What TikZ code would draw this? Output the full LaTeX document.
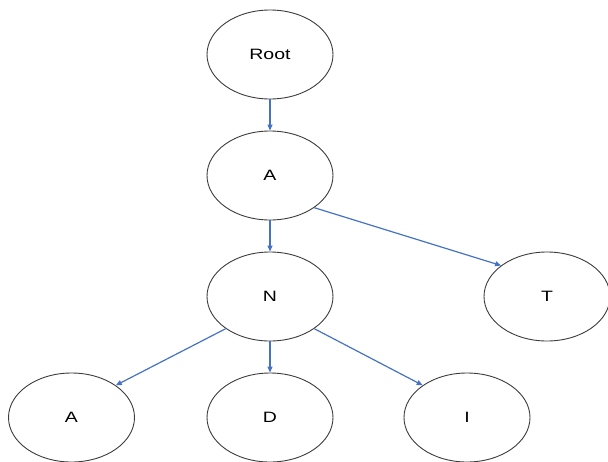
\documentclass[tikz,border=0pt]{standalone}
\usepackage{fontspec}
\setmainfont{Liberation Sans}
\usetikzlibrary{arrows.meta,shapes.geometric}
\definecolor{edgeblue}{RGB}{68,114,196}
\definecolor{ringgray}{RGB}{60,60,60}
\tikzset{
  treenode/.style={ellipse, draw=ringgray, line width=0.9pt, minimum width=126pt, minimum height=89pt, inner sep=0pt, font=\fontsize{15}{18}\selectfont},
  edge/.style={draw=edgeblue, line width=1.2pt, -{Triangle[length=6pt,width=5pt]}}
}
\newcommand{\wlabel}[1]{\scalebox{1.3}[1]{#1}}
\begin{document}
\begin{tikzpicture}[x=1pt,y=-1pt]
\useasboundingbox (0,0) rectangle (608,461);
\begin{scope}
\clip (0,0) rectangle (608,461);
\node[treenode] (root) at (270,54.5) {\wlabel{Root}};
\node[treenode] (a) at (270,175.5) {\wlabel{A}};
\node[treenode] (n) at (270,296.5) {\wlabel{N}};
\node[treenode] (t) at (547,296.5) {\wlabel{T}};
\node[treenode] (a2) at (71.5,417.5) {\wlabel{A}};
\node[treenode] (d) at (270,417.5) {\wlabel{D}};
\node[treenode] (i) at (467,417.5) {\wlabel{I}};
\end{scope}
\draw[edge] (root.south) -- (a.north);
\draw[edge] (a.south) -- (n.north);
\draw[edge] (a.-36) -- (t.146);
\draw[edge] (n.-144) -- (a2.36);
\draw[edge] (n.south) -- (d.north);
\draw[edge] (n.-36) -- (i.144);
\end{tikzpicture}
\end{document}
